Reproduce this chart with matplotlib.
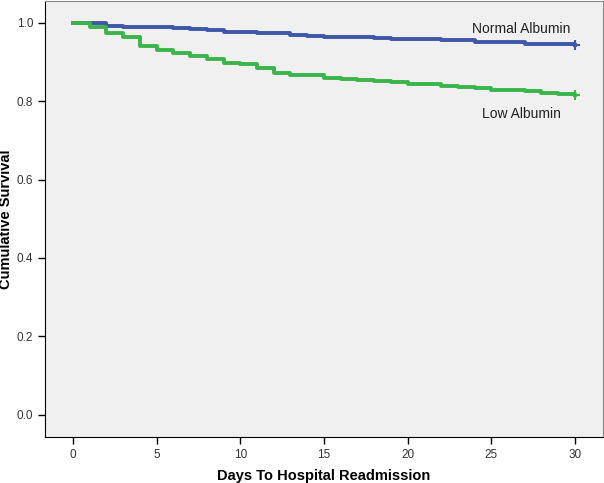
import matplotlib
matplotlib.use("Agg")
import matplotlib.pyplot as plt

# Kaplan-Meier style survival estimates
blue_days = [0, 2, 3, 6, 7, 8, 9, 11, 13, 14, 15, 18, 19, 22, 24, 27, 30]
blue_surv = [1.0, 0.992, 0.990, 0.987, 0.985, 0.983, 0.978, 0.975, 0.970, 0.967,
             0.965, 0.962, 0.959, 0.956, 0.951, 0.946, 0.943]

green_days = [0, 1, 2, 3, 4, 5, 6, 7, 8, 9, 10, 11, 12, 13, 15, 16, 17, 18, 19,
              20, 21, 22, 23, 24, 25, 26, 27, 28, 29, 30]
green_surv = [1.0, 0.990, 0.974, 0.963, 0.941, 0.930, 0.922, 0.916, 0.907, 0.897,
              0.894, 0.885, 0.872, 0.867, 0.859, 0.857, 0.854, 0.851, 0.848, 0.845,
              0.843, 0.839, 0.837, 0.834, 0.830, 0.828, 0.825, 0.821, 0.818, 0.815]

labels = ["Normal Albumin", "Low Albumin"]
xticks = [0, 5, 10, 15, 20, 25, 30]
yticks = [0.0, 0.2, 0.4, 0.6, 0.8, 1.0]

plt.rcParams['font.family'] = ['Liberation Sans', 'DejaVu Sans']

fig = plt.figure(figsize=(6.04, 4.83), dpi=100)
ax = fig.add_axes([45 / 604, 46 / 483, 558 / 604, 436 / 483])
ax.set_facecolor('#F0F0F0')

blue = '#3F57A8'
green = '#3AB54A'
ax.step(blue_days, blue_surv, where='post', color=blue, lw=2.8)
ax.step(green_days, green_surv, where='post', color=green, lw=2.8)
ax.plot(blue_days[-1], blue_surv[-1], marker='+', color=blue, ms=7, mew=1.5)
ax.plot(green_days[-1], green_surv[-1], marker='+', color=green, ms=7, mew=1.5)

ax.text(26.8, 0.985, labels[0], ha='center', va='center', fontsize=10, color='#222222')
ax.text(26.8, 0.768, labels[1], ha='center', va='center', fontsize=10, color='#222222')

ax.set_xlim(-1.67, 31.68)
ax.set_ylim(-0.057, 1.056)
ax.set_xticks(xticks)
ax.set_xticklabels([str(t) for t in xticks])
ax.set_yticks(yticks)
ax.set_yticklabels(['%.1f' % t for t in yticks])
ax.tick_params(direction='out', length=5, width=1, labelsize=8.5, colors='black',
               labelcolor='#333333')

for s in ['top', 'right']:
    ax.spines[s].set_color('#888888')
for s in ['left', 'bottom']:
    ax.spines[s].set_color('black')

ax.set_xlabel('Days To Hospital Readmission', fontsize=10.5, fontweight='bold', labelpad=6)
ax.set_ylabel('Cumulative Survival', fontsize=10.5, fontweight='bold', labelpad=3)

fig.savefig('out.png', dpi=100)
